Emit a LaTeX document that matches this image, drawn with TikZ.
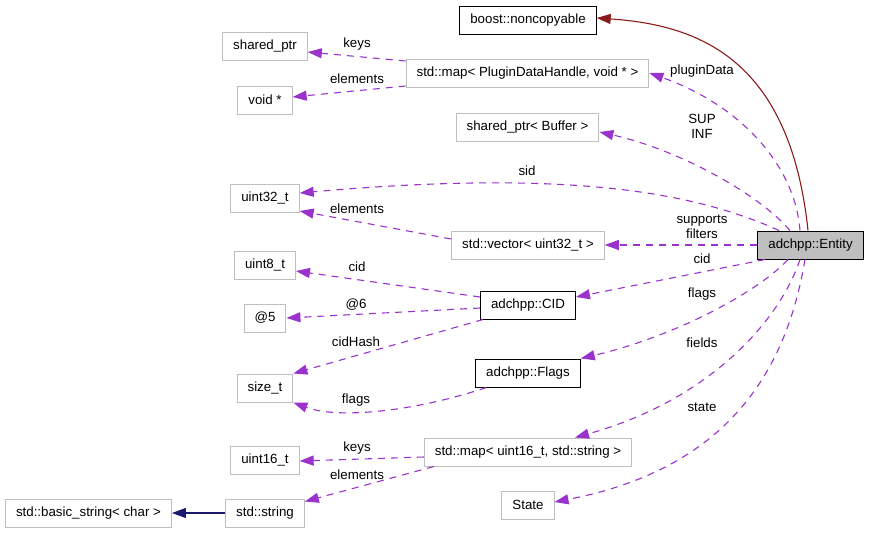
\documentclass[tikz,border=0pt]{standalone}
\usepackage{fontspec}
\setmainfont{Liberation Sans}
\usepackage{tikz}
\usetikzlibrary{arrows.meta}
\definecolor{dxpurple}{HTML}{9A32CD}
\definecolor{dxred}{HTML}{8B1A1A}
\definecolor{dxblue}{HTML}{191970}
\definecolor{dxgray}{HTML}{BFBFBF}
\tikzset{
  cls/.style={draw=dxgray,fill=white,line width=1pt,minimum height=28pt,inner xsep=10.5pt,font=\fontsize{13.3}{16}\selectfont},
  clsdoc/.style={cls,draw=black},
  clsmain/.style={cls,draw=black,fill=dxgray},
  usage/.style={draw=dxpurple,line width=1.1pt,dash pattern=on 7pt off 6pt,-{Triangle[length=14pt,width=10pt]}},
  inherit/.style={line width=1.1pt,-{Triangle[length=14pt,width=10pt]}},
  lbl/.style={font=\fontsize{13.3}{15}\selectfont,align=center,inner sep=0pt}
}

\begin{document}
\begin{tikzpicture}[x=1pt,y=-1pt]
\useasboundingbox (0,0) rectangle (869,533);

% Classes
\node[clsmain] (entity) at (810.5,245) {adchpp::Entity};
\node[clsdoc] (nc) at (528,20) {boost::noncopyable};
\node[cls] (pdmap) at (527.5,73) {std::map< PluginDataHandle, void * >};
\node[cls] (sp) at (265,46) {shared\_ptr};
\node[cls] (voidp) at (265,100) {void *};
\node[cls] (buf) at (527.5,127) {shared\_ptr< Buffer >};
\node[cls] (u32) at (265,198) {uint32\_t};
\node[cls] (vec) at (528,245) {std::vector< uint32\_t >};
\node[cls] (u8) at (265,265) {uint8\_t};
\node[clsdoc] (cid) at (528,305) {adchpp::CID};
\node[cls] (at5) at (265,318) {@5};
\node[cls] (size) at (265,388) {size\_t};
\node[clsdoc] (flags) at (528,373) {adchpp::Flags};
\node[cls] (u16) at (265,460) {uint16\_t};
\node[cls] (map16) at (528,452) {std::map< uint16\_t, std::string >};
\node[cls] (state) at (528,505) {State};
\node[cls] (str) at (265,513) {std::string};
\node[cls] (bstr) at (88.5,513) {std::basic\_string< char >};

% Labels
\node[lbl] (lkeys) at (357,44) {keys};
\node[lbl] (lelem) at (357,79) {elements};
\node[lbl] (lplug) at (702,71) {pluginData};
\node[lbl] (lsup) at (702,126) {SUP\\INF};
\node[lbl] (lsid) at (527,171) {sid};
\node[lbl] (lelem2) at (357,209) {elements};
\node[lbl] (lsupp) at (702,227) {supports\\filters};
\node[lbl] (lcid) at (702,259) {cid};
\node[lbl] (lcid2) at (357,267) {cid};
\node[lbl] (lat6) at (356,305) {@6};
\node[lbl] (lflags) at (702,294) {flags};
\node[lbl] (lhash) at (356,342) {cidHash};
\node[lbl] (lfields) at (702,343) {fields};
\node[lbl] (lflags2) at (356,400) {flags};
\node[lbl] (lstate) at (702,407) {state};
\node[lbl] (lkeys2) at (357,448) {keys};
\node[lbl] (lelem3) at (357,475) {elements};

% Inheritance
\draw[inherit,dxred] ([xshift=-2.5pt]entity.north) .. controls (790,60) and (700,25) .. ([yshift=2pt]nc.east);
\draw[inherit,dxblue] (str.west) -- (bstr.east);

% Members of Entity
\draw[usage] ([xshift=-10.5pt]entity.north) .. controls (795,165) and (740,105) .. (pdmap.east);
\draw[usage] ([xshift=-20.5pt]entity.north) .. controls (760,195) and (680,150) .. ([yshift=-5pt]buf.east);
\draw[usage] ([xshift=-31.5pt]entity.north) .. controls (690,190) and (560,170) .. ([yshift=5pt]u32.east);
\draw[usage] (entity.west) -- (vec.east);
\draw[usage] ([xshift=-45.5pt]entity.south) -- ([yshift=8pt]cid.east);
\draw[usage] ([xshift=-22.5pt]entity.south) .. controls (760,290) and (680,335) .. (flags.north east);
\draw[usage] ([xshift=-10.5pt]entity.south) .. controls (780,320) and (710,400) .. ([xshift=47pt]map16.north);
\draw[usage] ([xshift=-5.5pt]entity.south) .. controls (785,380) and (720,470) .. ([yshift=3pt]state.east);

% Other members
\draw[usage] ([yshift=12pt]pdmap.west) -- ([yshift=-6pt]sp.east);
\draw[usage] ([yshift=-13pt]pdmap.west) -- ([yshift=3pt]voidp.east);
\draw[usage] ([yshift=6pt]vec.west) -- ([yshift=-13pt]u32.east);
\draw[usage] ([yshift=8pt]cid.west) -- ([yshift=-6pt]u8.east);
\draw[usage] ([yshift=-3pt]cid.west) -- (at5.east);
\draw[usage] ([xshift=3pt]cid.south west) -- (size.north east);
\draw[usage] ([xshift=11pt]flags.south west) .. controls (420,410) and (340,420) .. (size.south east);
\draw[usage] ([yshift=-5pt]map16.west) -- ([yshift=-1pt]u16.east);
\draw[usage] ([xshift=10pt]map16.south west) -- ([yshift=-3pt]str.north east);
\end{tikzpicture}
\end{document}
